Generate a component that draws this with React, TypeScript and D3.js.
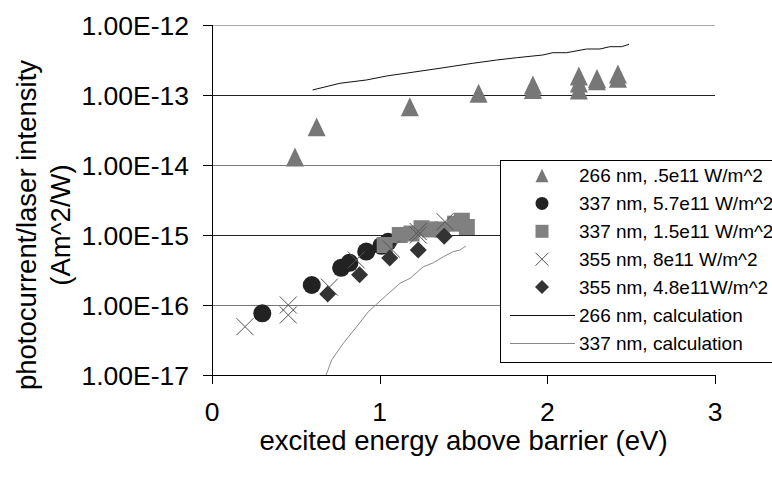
import React from "react";
import * as d3 from "d3";

const width = 772;
const height = 480;
const plot = { left: 212, right: 715, top: 25, bottom: 375 };

// data: [energy (eV), photocurrent/intensity]
const tri266: [number, number][] = [
  [0.495, 1.3e-14], [0.624, 3.5e-14], [1.18, 6.8e-14], [1.59, 1.06e-13],
  [1.914, 1.39e-13], [1.914, 1.2e-13], [2.188, 1.87e-13], [2.188, 1.48e-13],
  [2.188, 1.18e-13], [2.296, 1.72e-13], [2.296, 1.6e-13], [2.421, 2.0e-13],
  [2.421, 1.73e-13],
];
const circ337: [number, number][] = [
  [0.30, 7.6e-17], [0.595, 1.93e-16], [0.77, 3.4e-16], [0.82, 4.0e-16],
  [0.92, 5.8e-16], [1.01, 7.0e-16], [1.05, 8.0e-16],
];
const sq337: [number, number][] = [
  [1.03, 7.2e-16], [1.12, 1.0e-15], [1.19, 1.05e-15], [1.25, 1.25e-15],
  [1.30, 1.2e-15], [1.37, 1.2e-15], [1.45, 1.45e-15], [1.49, 1.6e-15],
  [1.52, 1.3e-15],
];
const cross355: [number, number][] = [
  [0.197, 4.9e-17], [0.455, 1.0e-16], [0.455, 7.2e-17], [0.70, 1.8e-16],
  [0.86, 4.4e-16], [1.07, 6.3e-16], [1.23, 1.12e-15], [1.23, 1.0e-15],
  [1.39, 1.55e-15],
];
const dia355: [number, number][] = [
  [0.69, 1.44e-16], [0.88, 2.7e-16], [1.06, 4.7e-16], [1.23, 6.1e-16],
  [1.385, 9.6e-16],
];
const calc266: [number, number][] = [
  [0.6, 1.18e-13], [0.763, 1.47e-13], [0.922, 1.64e-13], [1.042, 1.87e-13],
  [1.318, 2.33e-13], [1.556, 2.84e-13], [1.698, 3.16e-13], [1.817, 3.41e-13],
  [1.974, 3.73e-13], [2.033, 4.02e-13], [2.115, 4.02e-13], [2.234, 4.54e-13],
  [2.314, 4.54e-13], [2.373, 4.9e-13], [2.443, 4.9e-13], [2.487, 5.3e-13],
];
const calc337: [number, number][] = [
  [0.664, 7.8e-18], [0.714, 1.64e-17], [0.783, 2.84e-17], [0.863, 4.9e-17],
  [0.932, 8.0e-17], [0.982, 1.03e-16], [1.042, 1.39e-16], [1.121, 2.04e-16],
  [1.181, 2.4e-16], [1.26, 3.52e-16], [1.32, 4.0e-16], [1.38, 4.9e-16],
  [1.439, 5.77e-16], [1.479, 6.1e-16], [1.515, 6.97e-16],
];

const xTicks = [0, 1, 2, 3];
const yTicks = [1e-12, 1e-13, 1e-14, 1e-15, 1e-16, 1e-17];
const legendLabels = [
  "266 nm, .5e11 W/m^2",
  "337 nm, 5.7e11 W/m^2",
  "337 nm, 1.5e11 W/m^2",
  "355 nm, 8e11 W/m^2",
  "355 nm, 4.8e11W/m^2",
  "266 nm, calculation",
  "337 nm, calculation",
];

const x = d3.scaleLinear().domain([0, 3]).range([plot.left, plot.right]);
const y = d3.scaleLog().domain([1e-17, 1e-12]).range([plot.bottom, plot.top]);
const fmt = (v: number) => v.toExponential(2).toUpperCase();

// excel style markers as custom d3 symbol types (size = width in px)
const triangle = {
  draw(ctx: any, s: number) {
    const w = s / 2, h = (s * 1.05) / 2;
    ctx.moveTo(0, -h);
    ctx.lineTo(w, h);
    ctx.lineTo(-w, h);
    ctx.closePath();
  },
};
const diamond = {
  draw(ctx: any, s: number) {
    const r = s / 2;
    ctx.moveTo(0, -r);
    ctx.lineTo(r, 0);
    ctx.lineTo(0, r);
    ctx.lineTo(-r, 0);
    ctx.closePath();
  },
};
const cross = {
  draw(ctx: any, s: number) {
    const r = s / 2;
    ctx.moveTo(-r, -r);
    ctx.lineTo(r, r);
    ctx.moveTo(r, -r);
    ctx.lineTo(-r, r);
  },
};
const circle = {
  draw(ctx: any, s: number) {
    const r = s / 2;
    ctx.moveTo(r, 0);
    ctx.arc(0, 0, r, 0, 2 * Math.PI);
  },
};
const square = {
  draw(ctx: any, s: number) {
    const r = s / 2;
    ctx.rect(-r, -r, s, s);
  },
};

const series = [
  { data: tri266, type: triangle, size: 18, legendSize: 13, fill: "#777", stroke: "none" },
  { data: circ337, type: circle, size: 18, legendSize: 13, fill: "#222", stroke: "none" },
  { data: sq337, type: square, size: 16, legendSize: 13, fill: "#808080", stroke: "none" },
  { data: cross355, type: cross, size: 17, legendSize: 13, fill: "none", stroke: "#555" },
  { data: dia355, type: diamond, size: 17, legendSize: 14, fill: "#333", stroke: "none" },
];
const lines = [
  { data: calc266, color: "#111" },
  { data: calc337, color: "#888" },
];

const line = d3
  .line<[number, number]>()
  .x((d) => x(d[0]))
  .y((d) => y(d[1]));

const gridColor = (v: number) => (v === 1e-13 || v === 1e-15 ? "#222" : "#777");

const App = () => {
  const axisFont = "'Liberation Sans', Arial, sans-serif";
  const legend = { x: 500, y: 160, w: 300, h: 202, row0: 175.5, step: 27.9 };
  return (
    <svg
      width={width}
      height={height}
      style={{ position: "absolute", left: 0, top: 0, background: "#fff" }}
      fontFamily={axisFont}
    >
      <defs>
        <clipPath id="plotClip">
          <rect x={plot.left} y={plot.top} width={plot.right - plot.left} height={plot.bottom - plot.top} />
        </clipPath>
      </defs>
      <rect width={width} height={height} fill="#fff" />

      {/* plot frame + gridlines */}
      <line x1={plot.left} x2={plot.right} y1={plot.top + 0.5} y2={plot.top + 0.5} stroke="#aaa" />
      {yTicks.slice(1, -1).map((t) => (
        <line key={t} x1={plot.left} x2={plot.right} y1={Math.round(y(t)) + 0.5} y2={Math.round(y(t)) + 0.5} stroke={gridColor(t)} />
      ))}

      {/* axes */}
      <line x1={plot.left + 0.5} x2={plot.left + 0.5} y1={plot.top} y2={plot.bottom} stroke="#000" />
      <line x1={plot.left} x2={plot.right} y1={plot.bottom + 0.5} y2={plot.bottom + 0.5} stroke="#000" />
      {yTicks.map((t) => (
        <g key={t}>
          <line x1={plot.left - 9} x2={plot.left} y1={Math.round(y(t)) + 0.5} y2={Math.round(y(t)) + 0.5} stroke="#000" />
          <text x={189} y={y(t)} dy="0.36em" textAnchor="end" fontSize={26.5}>
            {fmt(t)}
          </text>
        </g>
      ))}
      {xTicks.map((t) => (
        <g key={t}>
          <line x1={Math.round(x(t)) + 0.5} x2={Math.round(x(t)) + 0.5} y1={plot.bottom} y2={plot.bottom + 9} stroke="#000" />
          <text x={x(t)} y={421} textAnchor="middle" fontSize={26.5}>
            {t}
          </text>
        </g>
      ))}
      <text x={(plot.left + plot.right) / 2} y={450} textAnchor="middle" fontSize={27.5}>
        excited energy above barrier (eV)
      </text>
      <text transform="translate(36,225) rotate(-90)" textAnchor="middle" fontSize={27.5}>
        photocurrent/laser intensity
      </text>
      <text transform="translate(70,225) rotate(-90)" textAnchor="middle" fontSize={27.5}>
        (Am^2/W)
      </text>

      {/* markers */}
      <g clipPath="url(#plotClip)">
        {series.map((s, i) => (
          <g key={i}>
            {s.data.map((d, j) => (
              <path
                key={j}
                transform={`translate(${x(d[0])},${y(d[1])})`}
                d={d3.symbol(s.type as any, s.size)() as string}
                fill={s.fill}
                stroke={s.stroke}
                strokeWidth={1}
              />
            ))}
          </g>
        ))}
        {lines.map((l, i) => (
          <path key={i} d={line(l.data) as string} fill="none" stroke={l.color} strokeWidth={1} />
        ))}
      </g>

      {/* legend */}
      <rect x={legend.x + 0.5} y={legend.y + 0.5} width={legend.w} height={legend.h} fill="#fff" stroke="#000" />
      {legendLabels.map((lab, i) => {
        const cy = legend.row0 + i * legend.step;
        const s = series[i];
        const l = lines[i - series.length];
        return (
          <g key={lab}>
            {s ? (
              <path
                transform={`translate(542,${cy})`}
                d={d3.symbol(s.type as any, s.legendSize)() as string}
                fill={s.fill}
                stroke={s.stroke}
              />
            ) : (
              <line x1={510} x2={575} y1={Math.round(cy) + 0.5} y2={Math.round(cy) + 0.5} stroke={l.color} />
            )}
            <text x={579} y={cy} dy="0.36em" fontSize={19}>
              {lab}
            </text>
          </g>
        );
      })}
    </svg>
  );
};

export default App;
